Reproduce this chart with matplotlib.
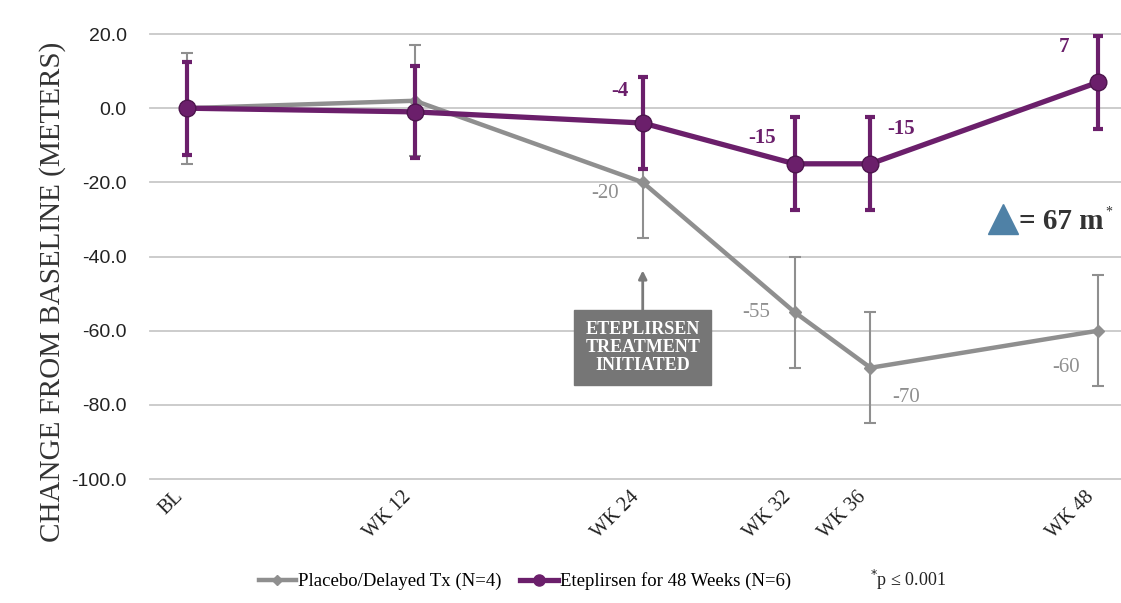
import matplotlib.pyplot as plt

# weeks on study, plotted on a true time scale
weeks = [0, 12, 24, 32, 36, 48]
week_labels = ["BL", "WK 12", "WK 24", "WK 32", "WK 36", "WK 48"]

placebo = [0, 2, -20, -55, -70, -60]
placebo_err = [15, 15, 15, 15, 15, 15]
placebo_lbl = {24: "-20", 32: "-55", 36: "-70", 48: "-60"}

etep = [0, -1, -4, -15, -15, 7]
etep_err = [12.5, 12.5, 12.5, 12.5, 12.5, 12.5]
etep_lbl = {24: "-4", 32: "-15", 36: "-15", 48: "7"}

yticks = [20, 0, -20, -40, -60, -80, -100]

GRAY = "#8f8f8f"
PURPLE = "#6b1f6b"
SERIF = "Liberation Serif"

fig = plt.figure(figsize=(11.21, 6.03), dpi=100)
ax = fig.add_axes([0.134, 0.2056, 0.866, 0.738])

ax.set_ylim(-100, 20)
ax.set_xlim(-1.95, 49.2)
for y in yticks:
    ax.axhline(y, color="#c8c8c8", lw=1.3, zorder=0, clip_on=False)

ax.errorbar(weeks, placebo, yerr=placebo_err, color=GRAY, lw=3.2,
            marker="D", ms=6, elinewidth=1.5, capsize=4, capthick=1.5,
            ecolor=GRAY, zorder=2, clip_on=False)
ax.errorbar(weeks, etep, yerr=etep_err, color=PURPLE, lw=3.8,
            marker="o", ms=12, mec="#4d154d", elinewidth=3, capsize=3.5,
            capthick=3, ecolor=PURPLE, zorder=3, clip_on=False)

# point value labels
gray_off = {24: (-2.0, -3), 32: (-2.0, 0), 36: (1.9, -8), 48: (-1.7, -10)}
for w, v in zip(weeks, placebo):
    if w in placebo_lbl:
        dx, dy = gray_off[w]
        ax.text(w + dx, v + dy, placebo_lbl[w], color=GRAY, fontsize=15,
                family=SERIF, ha="center", va="center")
purple_off = {24: (-1.2, 8.5), 32: (-1.7, 7), 36: (1.6, 9.5), 48: (-1.8, 9.5)}
for w, v in zip(weeks, etep):
    if w in etep_lbl:
        dx, dy = purple_off[w]
        ax.text(w + dx, v + dy, etep_lbl[w], color=PURPLE, fontsize=15,
                family=SERIF, weight="bold", ha="center", va="center")

# treatment start marker
ax.annotate("", xy=(24, -43), xytext=(24, -55.5),
            arrowprops=dict(arrowstyle="-|>", color="#7a7a7a", lw=2,
                            mutation_scale=12))
ax.text(24, -64.5, "ETEPLIRSEN\nTREATMENT\nINITIATED", color="white",
        fontsize=13, family=SERIF, weight="bold", ha="center", va="center",
        linespacing=1.1,
        bbox=dict(boxstyle="square,pad=0.6", fc="#767676", ec="#767676"))

# difference between arms at week 48
ax.plot([43.0], [-30.0], marker="^", ms=21, color="#4f81a6", ls="none",
        clip_on=False)
ax.text(43.8, -30.5, "= 67 m", fontsize=21, family=SERIF, weight="bold",
        color="#333333", ha="left", va="center")
ax.text(48.4, -28.0, "*", fontsize=10, family=SERIF, color="#333333",
        ha="left", va="center")

ax.set_yticks(yticks)
ax.set_yticklabels([f"{y:.1f}" for y in yticks], fontsize=14,
                   family="Liberation Sans", color="#222222")
ax.set_xticks(weeks)
ax.set_xticklabels(week_labels, rotation=45, ha="right", fontsize=14.5,
                   family=SERIF, color="#222222")
ax.tick_params(length=0, axis="y", pad=17)
ax.tick_params(length=0, axis="x", pad=6)
for s in ax.spines.values():
    s.set_visible(False)

ax.set_ylabel("CHANGE FROM BASELINE (METERS)", fontsize=21, family=SERIF,
              color="#333333")
ax.yaxis.set_label_coords(-0.087, 0.42)

h1, = ax.plot([], [], color=GRAY, lw=3.2, marker="D", ms=5)
h2, = ax.plot([], [], color=PURPLE, lw=3.8, marker="o", ms=8)
fig.legend([h1, h2], ["Placebo/Delayed Tx (N=4)",
                      "Eteplirsen for 48 Weeks (N=6)"],
           loc="center", bbox_to_anchor=(0.468, 0.036), ncol=2,
           frameon=False, handlelength=2.0, handletextpad=0.1,
           columnspacing=1.0, prop={"family": SERIF, "size": 13.5})
fig.text(0.776, 0.039, "$^{*}$p ≤ 0.001", fontsize=13, family=SERIF,
         color="#222222", ha="left", va="center")

fig.savefig("out.png", dpi=100)
